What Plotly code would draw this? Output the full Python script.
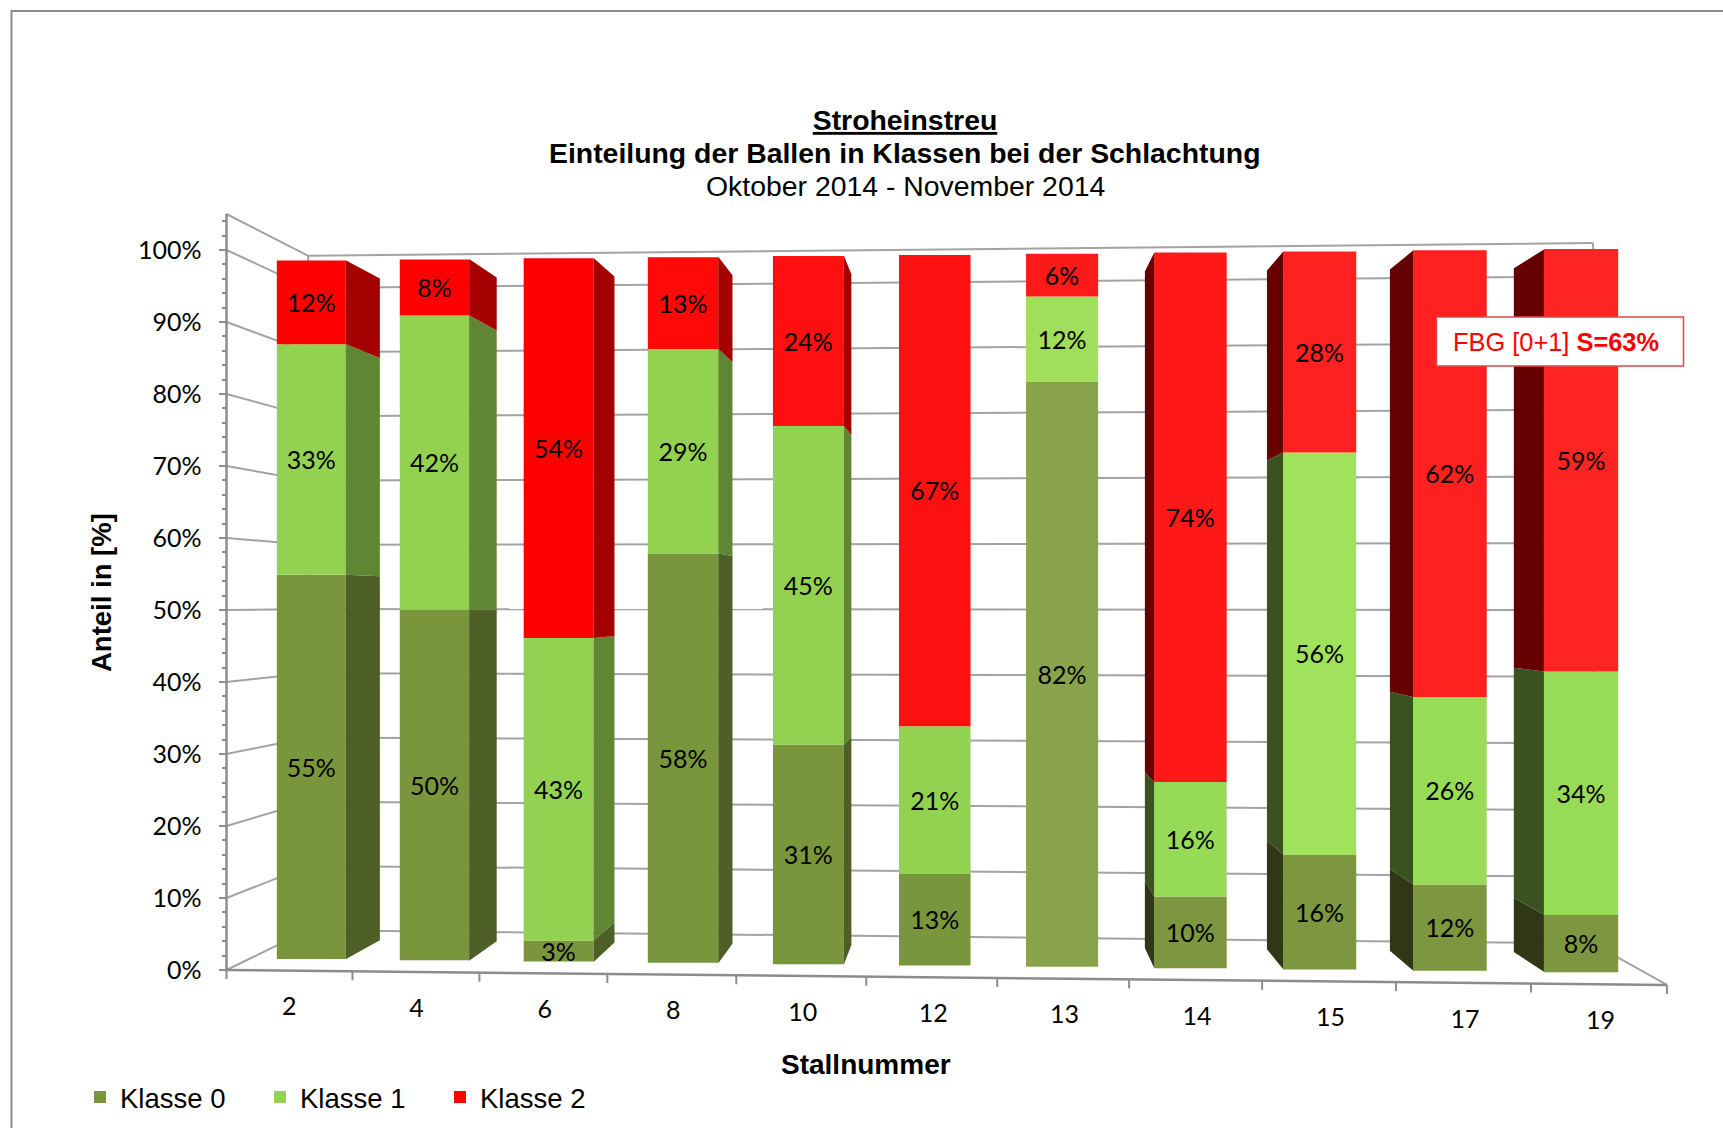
import plotly.graph_objects as go

stalls = ["2", "4", "6", "8", "10", "12", "13", "14", "15", "17", "19"]
klasse_0 = [55, 50, 3, 58, 31, 13, 82, 10, 16, 12, 8]
klasse_1 = [33, 42, 43, 29, 45, 21, 12, 16, 56, 26, 34]
klasse_2 = [12, 8, 54, 13, 24, 67, 6, 74, 28, 62, 59]
series_names = ["Klasse 0", "Klasse 1", "Klasse 2"]
y_ticks = list(range(0, 101, 10))
y_tick_labels = [f"{v}%" for v in y_ticks]

front_colors = [
    ["#7A963C"] * 6 + ["#88A34A"] + ["#7C973F"] * 4,
    ["#92D250"] * 6 + ["#A0DE5B", "#96DA55", "#A0E25B", "#97DB57", "#97DB57"],
    ["#FF0000", "#FF0000", "#FF0000", "#FF0808", "#FF0F0F", "#FF1010", "#FF1A1A", "#FF1818", "#FF2020", "#FF2020", "#FF2424"],
]
right_side_colors = ["#4D5F26", "#5F8632", "#A50000"]
left_side_colors = ["#2F3716", "#3A5220", "#660000"]
grid_color = "#A3A3A3"
axis_color = "#8C8C8C"
tick_font = "Lato, 'Open Sans', sans-serif"
text_font = "'Liberation Sans', Arial, sans-serif"

# chart geometry: one slot per stall, y in percent on the left front edge
W, H = 1723, 1128
PX_LEFT, PX_PER_SLOT = 226.5, 130.95
PX_ZERO, PX_PER_PCT = 970.0, 7.2
VPX, VPY = 5.777, 51.25
BAR_DEPTH, BAR_BACK, WALL_DEPTH = 0.0315, 0.0835, 0.108
BAR_HALF = 0.282
N = len(stalls)


def project(slot, v, depth=0.0):
    u = slot + 0.00382 * slot * (slot - N)
    t = u / N
    y = -2.08 * t + v * (1 + 0.0388 * t)
    return u + (VPX - u) * depth, y + (VPY - y) * depth


def to_x(px):
    return (px - PX_LEFT) / PX_PER_SLOT


def to_y(py):
    return (PX_ZERO - py) / PX_PER_PCT


def seg(a, b, color, width=2):
    return dict(type="line", xref="x", yref="y", layer="below",
                x0=a[0], y0=a[1], x1=b[0], y1=b[1],
                line=dict(color=color, width=width))


def slot_center(i):
    return i + 0.5 + min(0.012, 0.006 * i)


series = [klasse_0, klasse_1, klasse_2]
totals = [sum(s[i] for s in series) for i in range(N)]

fig = go.Figure()

LABEL_DROP = 3.4 / PX_PER_PCT
label_x, label_y, label_text = [], [], []
side_traces = []
cum = [0.0] * N
for k, values in enumerate(series):
    xs, widths, bases, heights = [], [], [], []
    rx, ry, lx, ly = [], [], [], []
    for i in range(N):
        share = values[i] * 100.0 / totals[i]
        lo, hi = cum[i], cum[i] + share
        cum[i] = hi
        c = slot_center(i)
        left_f = project(c - BAR_HALF, lo, BAR_DEPTH)
        right_f = project(c + BAR_HALF, lo, BAR_DEPTH)
        low_c = project(c, lo, BAR_DEPTH)
        high_c = project(c, hi, BAR_DEPTH)
        xs.append((left_f[0] + right_f[0]) / 2)
        widths.append(right_f[0] - left_f[0])
        bases.append(low_c[1])
        heights.append(high_c[1] - low_c[1])
        label_x.append(low_c[0])
        label_y.append((low_c[1] + high_c[1]) / 2 - LABEL_DROP)
        label_text.append(f"{values[i]}%")
        for slot, px_list, py_list, outward in (
            (c + BAR_HALF, rx, ry, 1),
            (c - BAR_HALF, lx, ly, -1),
        ):
            p0 = project(slot, lo, BAR_DEPTH)
            p1 = project(slot, lo, BAR_BACK)
            p2 = project(slot, hi, BAR_BACK)
            p3 = project(slot, hi, BAR_DEPTH)
            if (p1[0] - p0[0]) * outward > 0.03:
                px_list += [p0[0], p1[0], p2[0], p3[0], p0[0], None]
                py_list += [p0[1], p1[1], p2[1], p3[1], p0[1], None]
    fig.add_trace(go.Bar(x=xs, y=heights, base=bases, width=widths, name=series_names[k],
                         marker=dict(color=front_colors[k], line=dict(width=0)),
                         hoverinfo="skip"))
    side_traces.append((rx, ry, right_side_colors[k]))
    side_traces.append((lx, ly, left_side_colors[k]))

for px_list, py_list, color in side_traces:
    fig.add_trace(go.Scatter(x=px_list, y=py_list, mode="lines", fill="toself", fillcolor=color,
                             line=dict(width=0, color=color), showlegend=False, hoverinfo="skip"))

fig.add_trace(go.Scatter(x=label_x, y=label_y, text=label_text, mode="text", showlegend=False,
                         textposition="middle center", hoverinfo="skip",
                         textfont=dict(family=tick_font, size=25, color="#000000")))

# category labels along the sloping front edge
cat_pts = [project(slot_center(i), 0) for i in range(N)]
fig.add_trace(go.Scatter(x=[p[0] for p in cat_pts], y=[p[1] - 38.5 / PX_PER_PCT for p in cat_pts],
                         text=stalls, mode="text", showlegend=False, textposition="middle center",
                         hoverinfo="skip", textfont=dict(family=tick_font, size=25, color="#000000")))

# walls, floor and gridlines
TOP = 105
shapes = []
for v in y_ticks:
    shapes.append(seg(project(0, v), project(0, v, WALL_DEPTH), grid_color))
    shapes.append(seg(project(0, v, WALL_DEPTH), project(N, v, WALL_DEPTH), grid_color))
shapes.append(seg(project(0, TOP), project(0, TOP, WALL_DEPTH), grid_color))
shapes.append(seg(project(0, TOP, WALL_DEPTH), project(N, TOP, WALL_DEPTH), grid_color))
shapes.append(seg(project(0, 0, WALL_DEPTH), project(0, TOP, WALL_DEPTH), grid_color))
shapes.append(seg(project(N, 0, WALL_DEPTH), project(N, TOP, WALL_DEPTH), grid_color))
shapes.append(seg(project(N, 0), project(N, 0, WALL_DEPTH), grid_color))
shapes.append(seg(project(0, 0), project(N, 0), axis_color, 2.5))
shapes.append(seg(project(0, 0), project(0, TOP), axis_color, 2.5))
for i in range(N + 1):
    p = project(i, 0)
    shapes.append(seg(p, (p[0], p[1] - 9 / PX_PER_PCT), axis_color))

shapes.append(dict(type="rect", xref="paper", yref="paper", layer="above",
                   x0=11.5 / W, x1=1.02, y0=-0.02, y1=1 - 11 / H,
                   line=dict(color="#8C8C8C", width=2), fillcolor="rgba(0,0,0,0)"))
shapes.append(dict(type="rect", xref="paper", yref="paper", layer="above",
                   x0=1436.5 / W, x1=1683.5 / W, y0=1 - 366 / H, y1=1 - 317 / H,
                   line=dict(color="#E0454F", width=1.5), fillcolor="#FFFFFF"))

title_font_size = 28.4
annotations = [
    dict(x=905 / W, y=1 - 153 / H, xref="paper", yref="paper", showarrow=False,
         xanchor="center", yanchor="middle",
         text="<b>Einteilung der Ballen in Klassen bei der Schlachtung</b>",
         font=dict(family=text_font, size=title_font_size, color="#000000")),
    dict(x=905 / W, y=1 - 186 / H, xref="paper", yref="paper", showarrow=False,
         xanchor="center", yanchor="middle",
         text="Oktober 2014 - November 2014",
         font=dict(family=text_font, size=title_font_size, color="#000000")),
    dict(x=101 / W, y=1 - 593 / H, xref="paper", yref="paper", text="<b>Anteil in [%]</b>", textangle=-90,
         xanchor="center", yanchor="middle",
         showarrow=False, font=dict(family=text_font, size=27.5, color="#000000")),
    dict(x=866 / W, y=1 - 1064 / H, xref="paper", yref="paper", text="<b>Stallnummer</b>",
         xanchor="center", yanchor="middle",
         showarrow=False, font=dict(family=text_font, size=28, color="#000000")),
    dict(x=1556 / W, y=1 - 341.5 / H, xref="paper", yref="paper", text="FBG [0+1] <b>S=63%</b>",
         xanchor="center", yanchor="middle",
         showarrow=False, font=dict(family=text_font, size=25.4, color="#FF0000")),
]

fig.update_layout(
    width=W, height=H, barmode="overlay", plot_bgcolor="#FFFFFF", paper_bgcolor="#FFFFFF",
    margin=dict(l=0, r=0, t=0, b=0, pad=0),
    title=dict(text="<b><u>Stroheinstreu</u></b>",
               x=905 / W, xanchor="center", xref="paper", y=1 - 120 / H, yanchor="middle", yref="paper",
               font=dict(family=text_font, size=title_font_size, color="#000000")),
    xaxis=dict(range=[to_x(0), to_x(W)], visible=False, domain=[0, 1]),
    yaxis=dict(range=[to_y(H), to_y(0)], domain=[0, 1], anchor="free", position=PX_LEFT / W,
               tickmode="array", tickvals=y_ticks, ticktext=y_tick_labels,
               ticks="outside", ticklen=8, tickwidth=2, tickcolor=axis_color, showgrid=False, zeroline=False,
               showline=False, ticklabelstandoff=12, tickfont=dict(family=tick_font, size=25, color="#000000"),
               minor=dict(tickmode="array", tickvals=[v for v in range(0, 105, 2) if v % 10], ticks="outside",
                          ticklen=5, tickwidth=2, tickcolor=axis_color, showgrid=False)),
    legend=dict(orientation="h", xref="paper", yref="paper", x=80 / W, xanchor="left",
                y=1 - 1097 / H, yanchor="middle", entrywidth=135, entrywidthmode="pixels",
                font=dict(family=text_font, size=27.5, color="#000000"), bgcolor="rgba(0,0,0,0)"),
    shapes=shapes, annotations=annotations,
)

fig.write_html("out.html", config={"displayModeBar": False},
               post_script="document.body.style.margin='0';")
